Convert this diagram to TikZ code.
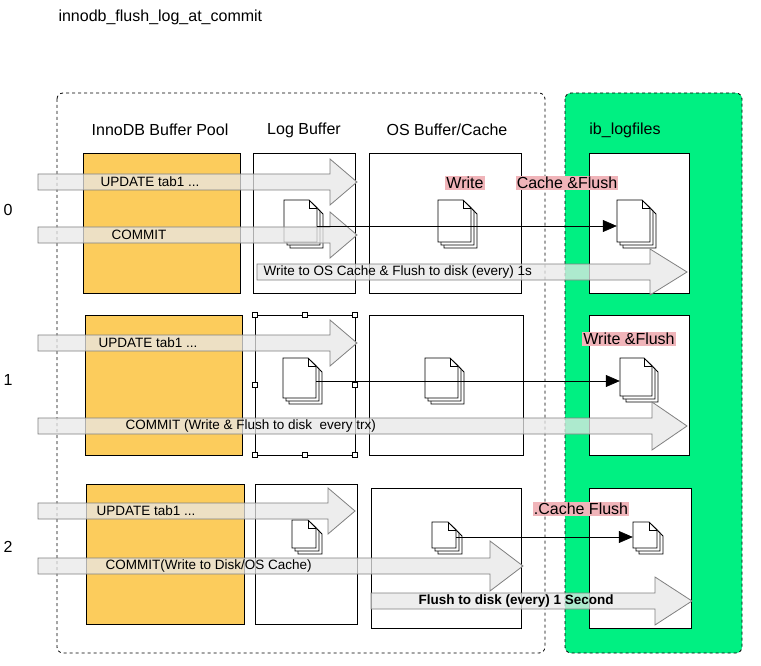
\documentclass[tikz,border=0pt]{standalone}
\usepackage{fontspec}
\setmainfont{Liberation Sans}
\usetikzlibrary{arrows.meta}
\definecolor{poolorange}{RGB}{252,204,92}
\definecolor{loggreen}{RGB}{0,240,130}
\definecolor{tagpink}{RGB}{240,180,185}
\definecolor{arrowgray}{RGB}{232,232,232}
\tikzset{
  area/.style={draw, thick, dashed, rounded corners=6pt},
  box/.style={draw, thick, fill=white},
  pool/.style={draw, thick, fill=poolorange},
  head/.style={font=\fontsize{16}{19}\selectfont},
  tag/.style={fill=tagpink, inner sep=1pt, font=\fontsize{16}{19}\selectfont},
  lbl/.style={anchor=west, font=\fontsize{13.5}{16}\selectfont},
  page/.style={draw, thick, fill=white},
  link/.style={-{Triangle[length=14pt,width=12pt]}, semithick},
}
% block arrow: x start, x end, y centre, head start, half head
\newcommand{\blockarrow}[5]{
  \draw[gray, thick, fill=arrowgray, fill opacity=0.75]
    (#1,#3-8)--(#4,#3-8)--(#4,#3-#5)--(#2,#3)--(#4,#3+#5)--(#4,#3+8)--(#1,#3+8)--cycle;
}
% stack of pages: name, x, y (top left), w, h
\newcommand{\docs}[5]{
  \foreach \o in {6,3,0}{
    \draw[page] (#2+\o,#3+\o)--(#2+#4-8+\o,#3+\o)--(#2+#4+\o,#3+8+\o)--(#2+#4+\o,#3+#5+\o)--(#2+\o,#3+#5+\o)--cycle;
  }
  \draw[thick] (#2+#4-8,#3)--(#2+#4-8,#3+8)--(#2+#4,#3+8);
  \node[inner sep=0, minimum width=#4, minimum height=#5] (#1) at (#2+#4/2,#3+#5/2) {};
}
\begin{document}
\begin{tikzpicture}[x=1pt,y=-1pt]
    \useasboundingbox (0,0) rectangle (761,666);
    \node[anchor=west, head] (title) at (55,17) {innodb\_flush\_log\_at\_commit};
    \draw[area] (57,93) rectangle (545,653);
    \draw[area, fill=loggreen] (565,93) rectangle (742,653);
    \node[head] (hpool) at (160,130) {InnoDB Buffer Pool};
    \node[head] (hlog) at (304,130) {Log Buffer};
    \node[head] (hos) at (447,130) {OS Buffer/Cache};
    \node[head] (hib) at (625,130) {ib\_logfiles};
    \node[head] (n0) at (8,210) {0};
    \node[head] (n1) at (8,380) {1};
    \node[head] (n2) at (8,547) {2};
    % row 0
    \draw[pool] (83,153) rectangle (240,293);
    \draw[box] (253,153) rectangle (355,293);
    \draw[box] (369,153) rectangle (521,293);
    \draw[box] (589,153) rectangle (689,293);
    % row 1
    \draw[pool] (85,315) rectangle (242,455);
    \draw[box] (255,315) rectangle (355,455);
    \foreach \Point in {(255,315),(305,315),(355,315),(255,385),(355,385),(255,455),(305,455),(355,455)}{
        \draw[fill=white] \Point ++(-2.5,-2.5) rectangle ++(5,5);
    }
    \draw[box] (369,315) rectangle (523,455);
    \draw[box] (589,315) rectangle (689,455);
    % row 2
    \draw[pool] (86,484) rectangle (244,624);
    \draw[box] (255,484) rectangle (357,624);
    \draw[box] (371,488) rectangle (521,628);
    \draw[box] (589,488) rectangle (691,628);
    % pages
    \docs{log0}{284}{200}{33}{42}
    \docs{os0}{438}{200}{33}{42}
    \docs{ib0}{617}{200}{33}{42}
    \docs{log1}{283}{358}{33}{40}
    \docs{os1}{425}{358}{33}{40}
    \docs{ib1}{620}{358}{32}{38}
    \docs{log2}{292}{520}{24}{28}
    \docs{os2}{432}{522}{24}{26}
    \docs{ib2}{633}{522}{24}{26}
    % big arrows
    \blockarrow{38}{357}{182}{330}{23}
    \node[lbl] (up0) at (97,182) {UPDATE tab1 ...};
    \blockarrow{38}{357}{235}{330}{23}
    \node[lbl] (cm0) at (108,235) {COMMIT};
    \blockarrow{257}{687}{272}{650}{23}
    \node[lbl] (wr0) at (260,272) {Write to OS Cache \& Flush to disk (every) 1s};
    \blockarrow{38}{357}{343}{330}{23}
    \node[lbl] (up1) at (95,343) {UPDATE tab1 ...};
    \blockarrow{38}{687}{426}{652}{24}
    \node[lbl] (cm1) at (122,426) {COMMIT (Write \& Flush to disk\ \ every trx)};
    \blockarrow{38}{355}{511}{328}{23}
    \node[lbl] (up2) at (93,511) {UPDATE tab1 ...};
    \blockarrow{38}{523}{566}{490}{25}
    \node[lbl] (cm2) at (102,566) {COMMIT(Write to Disk/OS Cache)};
    \blockarrow{371}{692}{601}{655}{24}
    \node[lbl, font=\bfseries\fontsize{13.5}{16}\selectfont] (fl2) at (415,601) {Flush to disk (every) 1 Second};
    % links
    \draw[link] (log0.east |- 0,226) -- (ib0.west |- 0,226);
    \draw[link] (log1.east |- 0,381) -- (ib1.west |- 0,381);
    \draw[link] (os2.east |- 0,537) -- (ib2.west |- 0,537);
    % tags
    \node[tag] (t0a) at (465,183) {Write};
    \node[tag] (t0b) at (567,183) {Cache \&Flush};
    \node[tag] (t1) at (629,339) {Write \&Flush};
    \node[tag] (t2) at (581,509) {.Cache Flush};
\end{tikzpicture}
\end{document}
